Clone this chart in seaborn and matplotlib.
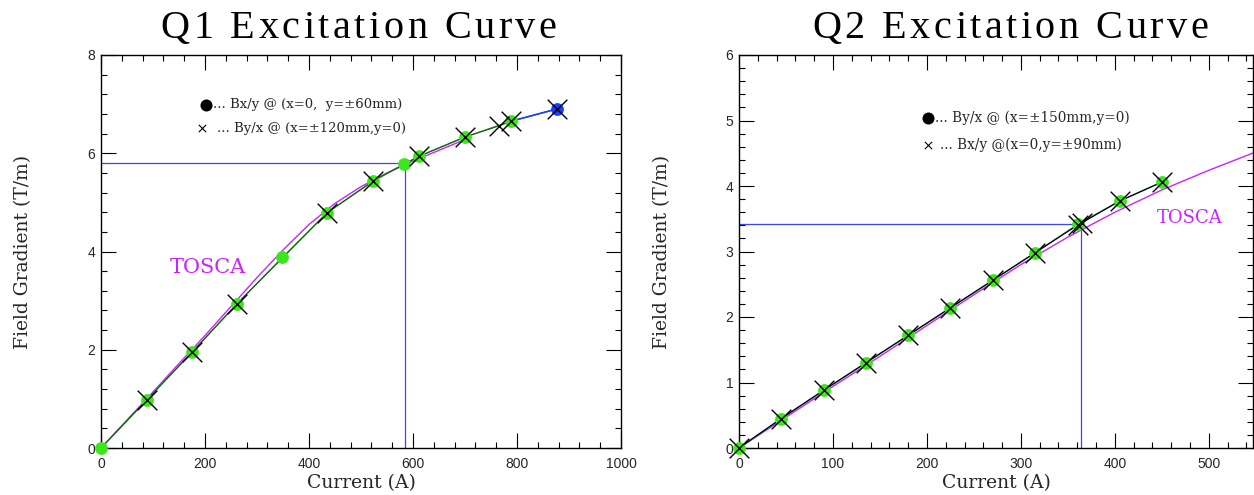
import matplotlib
matplotlib.use("Agg")
import matplotlib.pyplot as plt
from matplotlib.ticker import MultipleLocator
from matplotlib.font_manager import FontProperties
import seaborn as sns
import pandas as pd

# ---- Q1 measured data (current in A, gradient in T/m) ----
q1_circle_current = [0, 88, 175, 261, 349, 435, 524, 583, 612, 700, 788]
q1_circle_grad = [0.0, 0.98, 1.95, 2.93, 3.88, 4.79, 5.44, 5.78, 5.94, 6.33, 6.65]
q1_top_current = [788, 876]
q1_top_grad = [6.65, 6.90]
q1_cross_current = [0, 88, 175, 261, 435, 524, 612, 700, 766, 788, 876]
q1_cross_grad = [0.0, 0.98, 1.95, 2.93, 4.79, 5.44, 5.94, 6.33, 6.56, 6.65, 6.90]
q1_tosca_current = [0, 50, 100, 150, 200, 250, 300, 350, 400, 450, 500, 550, 600, 650, 700]
q1_tosca_grad = [0.0, 0.57, 1.14, 1.72, 2.29, 2.88, 3.47, 4.03, 4.55, 4.98, 5.32, 5.60, 5.84, 6.06, 6.28]
q1_op_current = 585
q1_op_grad = 5.80

# ---- Q2 measured data ----
q2_circle_current = [0, 45, 90, 135, 180, 225, 270, 315, 361, 405, 450]
q2_circle_grad = [0.0, 0.45, 0.88, 1.30, 1.72, 2.14, 2.56, 2.98, 3.42, 3.77, 4.06]
q2_cross_current = [0, 45, 90, 135, 180, 225, 270, 315, 361, 365, 405, 450]
q2_cross_grad = [0.0, 0.45, 0.88, 1.30, 1.72, 2.14, 2.56, 2.98, 3.41, 3.44, 3.77, 4.06]
q2_tosca_current = [0, 50, 100, 150, 200, 250, 300, 350, 400, 450, 500, 550]
q2_tosca_grad = [0.0, 0.47, 0.94, 1.40, 1.87, 2.34, 2.80, 3.22, 3.60, 3.94, 4.24, 4.52]
q2_op_current = 364
q2_op_grad = 3.42

titles = ["Q1 Excitation Curve", "Q2 Excitation Curve"]

GREEN_PT = "#3de61c"
GREEN_LN = "#2aa82a"
MAGENTA = "#cc22ff"
BLUE = "#3a44ff"
BLUE_PT = "#1d3cff"

sns.set_theme(style="ticks")
plt.rcParams["font.family"] = ["Liberation Sans", "DejaVu Sans"]
plt.rcParams["axes.linewidth"] = 1.0
plt.rcParams["axes.edgecolor"] = "black"

DPI = 100
fig = plt.figure(figsize=(12.54, 4.95), dpi=DPI)
W, H = 1254, 495
ax1 = fig.add_axes([101 / W, 47 / H, 520 / W, 393 / H])
ax2 = fig.add_axes([739 / W, 47 / H, 514 / W, 393 / H])

serif = ["DejaVu Serif"]


def line(ax, xs, ys, color, lw=1.0, z=2):
    df = pd.DataFrame({"I": xs, "G": ys})
    sns.lineplot(data=df, x="I", y="G", ax=ax, color=color, lw=lw,
                 sort=False, estimator=None, zorder=z)


def points(ax, xs, ys, color, marker, s, lw=0.0, z=4):
    df = pd.DataFrame({"I": xs, "G": ys})
    if marker == "x":
        sns.scatterplot(data=df, x="I", y="G", ax=ax, marker="x", color=color,
                        s=s, linewidth=lw, zorder=z, clip_on=False)
    else:
        sns.scatterplot(data=df, x="I", y="G", ax=ax, marker=marker, color=color,
                        s=s, linewidth=0, edgecolor=color, zorder=z, clip_on=False)


def style_axes(ax, xmax, ymax, xmaj, xmin, ymaj, ymin):
    ax.set_xlim(0, xmax)
    ax.set_ylim(0, ymax)
    ax.xaxis.set_major_locator(MultipleLocator(xmaj))
    ax.xaxis.set_minor_locator(MultipleLocator(xmin))
    ax.yaxis.set_major_locator(MultipleLocator(ymaj))
    ax.yaxis.set_minor_locator(MultipleLocator(ymin))
    ax.tick_params(which="both", direction="in", top=True, right=True,
                   color="black", width=0.8)
    ax.tick_params(which="major", length=10.8)
    ax.tick_params(which="minor", length=4.3)
    ax.tick_params(axis="x", which="major", pad=6.5, labelsize=10)
    ax.tick_params(axis="y", which="major", pad=4, labelsize=10)
    for sp in ax.spines.values():
        sp.set_visible(True)
        sp.set_color("black")
        sp.set_linewidth(1.0)
    ax.set_xlabel("Current (A)", fontfamily=serif, fontsize=13.5)
    ax.set_ylabel("Field Gradient (T/m)", fontfamily=serif, fontsize=13.5)
    ax.xaxis.set_label_coords(0.5, -0.066)
    ax.yaxis.set_label_coords(-0.133, 0.5)
    ax.set_facecolor("white")


# ---- Q1 panel ----
ax = ax1
ax.plot([0, q1_op_current], [q1_op_grad, q1_op_grad], color=BLUE, lw=0.9, zorder=1)
ax.plot([q1_op_current, q1_op_current], [0, q1_op_grad], color=BLUE, lw=0.9, zorder=1)
line(ax, q1_tosca_current, q1_tosca_grad, MAGENTA, lw=1.0, z=2)
line(ax, q1_circle_current, q1_circle_grad, GREEN_LN, lw=1.0, z=2)
line(ax, q1_cross_current, q1_cross_grad, "#1c5a1c", lw=0.8, z=2)
line(ax, q1_top_current, q1_top_grad, BLUE_PT, lw=1.2, z=3)
points(ax, q1_circle_current, q1_circle_grad, GREEN_PT, "o", 85)
points(ax, q1_top_current[-1:], q1_top_grad[-1:], BLUE_PT, "o", 85)
points(ax, q1_cross_current[1:], q1_cross_grad[1:], "black", "x", 200, lw=1.0, z=5)
style_axes(ax, 1000, 8, 200, 40, 2, 0.4)
ax.text(133, 3.67, "TOSCA", color=MAGENTA, fontfamily=serif, fontsize=15,
        ha="left", va="center")
ax.scatter([0.202], [0.873], transform=ax.transAxes, s=75, color="black",
           marker="o", linewidths=0, zorder=6)
ax.text(0.216, 0.873, "... Bx/y @ (x=0,  y=\u00b160mm)", transform=ax.transAxes,
        fontfamily=serif, fontsize=9.5, va="center", ha="left")
ax.scatter([0.194], [0.813], transform=ax.transAxes, s=28, color="black",
           marker="x", linewidths=0.8, zorder=6)
ax.text(0.223, 0.813, "... By/x @ (x=\u00b1120mm,y=0)", transform=ax.transAxes,
        fontfamily=serif, fontsize=9.5, va="center", ha="left")

# ---- Q2 panel ----
ax = ax2
ax.plot([0, q2_op_current], [q2_op_grad, q2_op_grad], color=BLUE, lw=0.9, zorder=1)
ax.plot([q2_op_current, q2_op_current], [0, q2_op_grad], color=BLUE, lw=0.9, zorder=1)
line(ax, q2_tosca_current, q2_tosca_grad, MAGENTA, lw=1.0, z=2)
line(ax, q2_circle_current, q2_circle_grad, "#2bb07a", lw=1.0, z=2)
line(ax, q2_cross_current, q2_cross_grad, "black", lw=0.9, z=3)
points(ax, q2_circle_current, q2_circle_grad, GREEN_PT, "o", 85)
points(ax, q2_cross_current, q2_cross_grad, "black", "x", 200, lw=1.0, z=5)
style_axes(ax, 547, 6, 100, 20, 1, 0.2)
ax.text(445, 3.51, "TOSCA", color=MAGENTA, fontfamily=serif, fontsize=13,
        ha="left", va="center")
ax.scatter([0.368], [0.840], transform=ax.transAxes, s=75, color="black",
           marker="o", linewidths=0, zorder=6)
ax.text(0.382, 0.840, "... By/x @ (x=\u00b1150mm,y=0)", transform=ax.transAxes,
        fontfamily=serif, fontsize=9.8, va="center", ha="left")
ax.scatter([0.368], [0.771], transform=ax.transAxes, s=28, color="black",
           marker="x", linewidths=0.8, zorder=6)
ax.text(0.392, 0.771, "... Bx/y @(x=0,y=\u00b190mm)", transform=ax.transAxes,
        fontfamily=serif, fontsize=9.8, va="center", ha="left")

# ---- letter-spaced panel titles, laid out glyph by glyph ----
TITLE_PT = 29
GLYPH_GAP_PX = 3.5
WORD_GAP_PX = 17.0
title_prop = FontProperties(family="Liberation Serif", size=TITLE_PT)
renderer = fig.canvas.get_renderer()


def ink_width(ch):
    w, _, _ = renderer.get_text_width_height_descent(ch, title_prop, ismath=False)
    return w


def tracked_title(text, x_center_px, baseline_px):
    words = text.split(" ")
    layout = []
    x = 0.0
    for wi, word in enumerate(words):
        if wi:
            x += WORD_GAP_PX - GLYPH_GAP_PX
        for ch in word:
            layout.append((ch, x))
            x += ink_width(ch) + GLYPH_GAP_PX
    total = x - GLYPH_GAP_PX
    x0 = x_center_px - total / 2.0
    for ch, off in layout:
        fig.text((x0 + off) / W, 1 - baseline_px / H, ch, fontproperties=title_prop,
                 ha="left", va="baseline", color="black")


tracked_title(titles[0], 358.5, 38)
tracked_title(titles[1], 1010, 38)

fig.savefig("out.png", dpi=DPI, facecolor="white")
